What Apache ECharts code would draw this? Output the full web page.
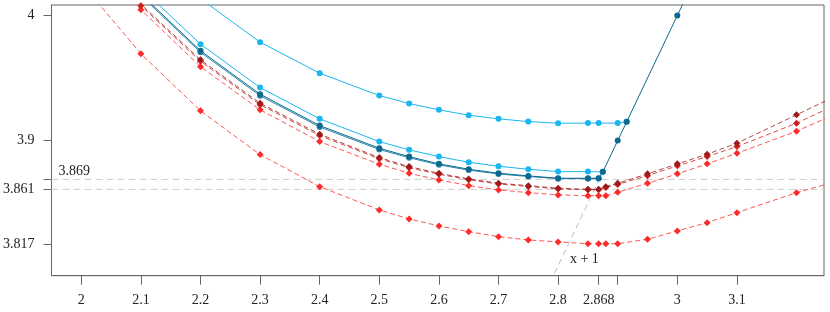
<!DOCTYPE html>
<html>
<head>
<meta charset="utf-8">
<script src="https://cdn.jsdelivr.net/npm/echarts@6/dist/echarts.min.js"></script>
<style>html,body{margin:0;padding:0;background:#fff}#c{width:830px;height:312px}</style>
</head>
<body>
<div id="c"></div>
<script>
// ---- data ----
const xTicks = [2, 2.1, 2.2, 2.3, 2.4, 2.5, 2.6, 2.7, 2.8, 2.868, 2.9, 3, 3.1];
const xLabels = [2, 2.1, 2.2, 2.3, 2.4, 2.5, 2.6, 2.7, 2.8, 2.868, 3, 3.1];
const yTicks = [3.817, 3.861, 3.869, 3.9, 4];
const yLabels = [3.817, 3.861, 3.9, 4];
const hLines = [3.869, 3.861];

const xLB1 = [2.2, 2.3, 2.4, 2.5, 2.55, 2.6, 2.65, 2.7, 2.75, 2.8, 2.85, 2.868, 2.9, 2.915];
const yLB1 = [4.0135, 3.9787, 3.9539, 3.936, 3.9296, 3.9246, 3.9203, 3.9174, 3.9152, 3.9139, 3.914, 3.914, 3.914, 3.915];

const xLB2 = [2.1, 2.2, 2.3, 2.4, 2.5, 2.55, 2.6, 2.65, 2.7, 2.75, 2.8, 2.85, 2.875];
const yLB2 = [4.0221, 3.9771, 3.9424, 3.9174, 3.8992, 3.8926, 3.8872, 3.8827, 3.8795, 3.8771, 3.8752, 3.8752, 3.875];

const xDT1 = [2.1, 2.2, 2.3, 2.4, 2.5, 2.55, 2.6, 2.65, 2.7, 2.75, 2.8, 2.85, 2.868, 2.875, 2.9, 2.915, 3.0, 3.1];
const yDT1 = [4.0172, 3.9718, 3.9371, 3.912, 3.8939, 3.8872, 3.8814, 3.8771, 3.8739, 3.8718, 3.8699, 3.8699, 3.8699, 3.875, 3.9, 3.915, 4.0, 4.1];

const xDT2 = [2.1, 2.2, 2.3, 2.4, 2.5, 2.55, 2.6, 2.65, 2.7, 2.75, 2.8, 2.85, 2.868];
const yDT2 = [4.016, 3.9706, 3.9359, 3.9109, 3.8929, 3.8863, 3.8806, 3.8764, 3.8733, 3.8713, 3.8696, 3.8696, 3.8697];

const xR = [2.0, 2.1, 2.2, 2.3, 2.4, 2.5, 2.55, 2.6, 2.65, 2.7, 2.75, 2.8, 2.85, 2.868, 2.88, 2.9, 2.95, 3.0, 3.05, 3.1, 3.2, 3.3];
const yRlow = [4.026, 3.9694, 3.9238, 3.8888, 3.8632, 3.8446, 3.8374, 3.8318, 3.8272, 3.8232, 3.8206, 3.819, 3.8176, 3.8176, 3.8176, 3.8176, 3.8211, 3.8278, 3.8344, 3.8424, 3.8584, 3.8718];
const yRbright = [4.06, 4.0046, 3.959, 3.9246, 3.8992, 3.8811, 3.8739, 3.8686, 3.864, 3.8606, 3.8584, 3.8566, 3.856, 3.856, 3.856, 3.8587, 3.8659, 3.8734, 3.8814, 3.8899, 3.9075, 3.9285];
const yRmed = [4.063, 4.0078, 3.9634, 3.9287, 3.904, 3.8854, 3.8783, 3.8731, 3.8687, 3.8653, 3.8634, 3.8614, 3.8607, 3.8607, 3.8626, 3.865, 3.872, 3.8798, 3.8872, 3.8952, 3.9139, 3.9361];
const yRdark = [4.065, 4.009, 3.9646, 3.9299, 3.9051, 3.8864, 3.8792, 3.8739, 3.8694, 3.8659, 3.864, 3.8619, 3.8611, 3.8611, 3.8632, 3.8659, 3.8734, 3.8814, 3.8891, 3.8979, 3.9206, 3.9434];

const xGray = [2.7, 2.868];
const yGray = [3.7, 3.868];

// ---- chart ----
const XMIN = 1.95, XMAX = 3.2461, YMIN = 3.792, YMAX = 4.0084;
const FONT = '"Liberation Serif", "DejaVu Serif", serif';
const zip = (a, b) => a.map((v, i) => [v, b[i]]);
const fmt = v => String(+(+v).toFixed(3));

function lineS(name, xs, ys, color, symbol, size, dashed, z) {
  return {
    name, type: 'line', data: zip(xs, ys), z: z,
    symbol: symbol, symbolSize: size, showSymbol: true,
    lineStyle: { color: color, width: 1, type: dashed ? [5, 3] : 'solid', opacity: dashed ? 0.8 : 1 },
    itemStyle: { color: color }, clip: true, silent: true
  };
}

const chart = echarts.init(document.getElementById('c'), null, { renderer: 'canvas' });
const option = {
  animation: false,
  grid: { left: 51, top: 5, width: 773, height: 270.7, show: true, borderColor: '#666', borderWidth: 1, backgroundColor: 'transparent' },
  xAxis: {
    type: 'value', min: XMIN, max: XMAX,
    axisLine: { show: true, lineStyle: { color: '#666' } },
    axisTick: { show: true, inside: false, length: 9, customValues: xTicks, lineStyle: { color: '#666' } },
    axisLabel: { customValues: xLabels, margin: 18, color: '#222', fontFamily: FONT, fontSize: 14, formatter: fmt },
    splitLine: { show: false }
  },
  yAxis: {
    type: 'value', min: YMIN, max: YMAX,
    axisLine: { show: true, lineStyle: { color: '#666' } },
    axisTick: { show: true, inside: false, length: 8, customValues: yTicks, lineStyle: { color: '#666' } },
    axisLabel: { customValues: yLabels, margin: 17, color: '#222', fontFamily: FONT, fontSize: 14, formatter: fmt },
    splitLine: { show: false }
  },
  series: [
    ...hLines.map((h, i) => ({
      type: 'line', data: [[XMIN, h], [XMAX, h]], symbol: 'none', silent: true, z: 1,
      lineStyle: { color: '#cfcfcf', width: 1, type: [7, 4] }
    })),
    { type: 'line', data: zip(xGray, yGray), symbol: 'none', silent: true, z: 1,
      lineStyle: { color: '#bdbdbd', width: 1, type: [6, 4] } },
    lineS('r0', xR, yRlow, '#ff2a2a', 'diamond', 7, true, 2),
    lineS('r1', xR, yRbright, '#ff2a2a', 'diamond', 7, true, 2),
    lineS('r2', xR, yRmed, '#cc2020', 'diamond', 7, true, 2),
    lineS('r3', xR, yRdark, '#9e1a1a', 'diamond', 7, true, 2),
    lineS('b1', xLB1, yLB1, '#1ab6f0', 'circle', 6, false, 3),
    lineS('b2', xLB2, yLB2, '#1ab6f0', 'circle', 6, false, 3),
    lineS('t2', xDT2, yDT2, '#2a86ac', 'circle', 6, false, 4),
    lineS('t1', xDT1, yDT1, '#0b6a8e', 'circle', 6, false, 5)
  ]
};
chart.setOption(option);

const p1 = chart.convertToPixel({ gridIndex: 0 }, [XMIN, 3.869]);
const p2 = chart.convertToPixel({ gridIndex: 0 }, [2.844, 3.8051]);
chart.setOption({
  graphic: [
    { type: 'text', left: p1[0] + 7, top: p1[1] - 15, z: 10,
      style: { text: '3.869', fontFamily: FONT, fontSize: 14, fill: '#222' } },
    { type: 'text', x: p2[0], y: p2[1], z: 10,
      style: { text: 'x + 1', fontFamily: FONT, fontSize: 14, fill: '#222', align: 'center', verticalAlign: 'middle' } }
  ]
});
</script>
</body>
</html>
